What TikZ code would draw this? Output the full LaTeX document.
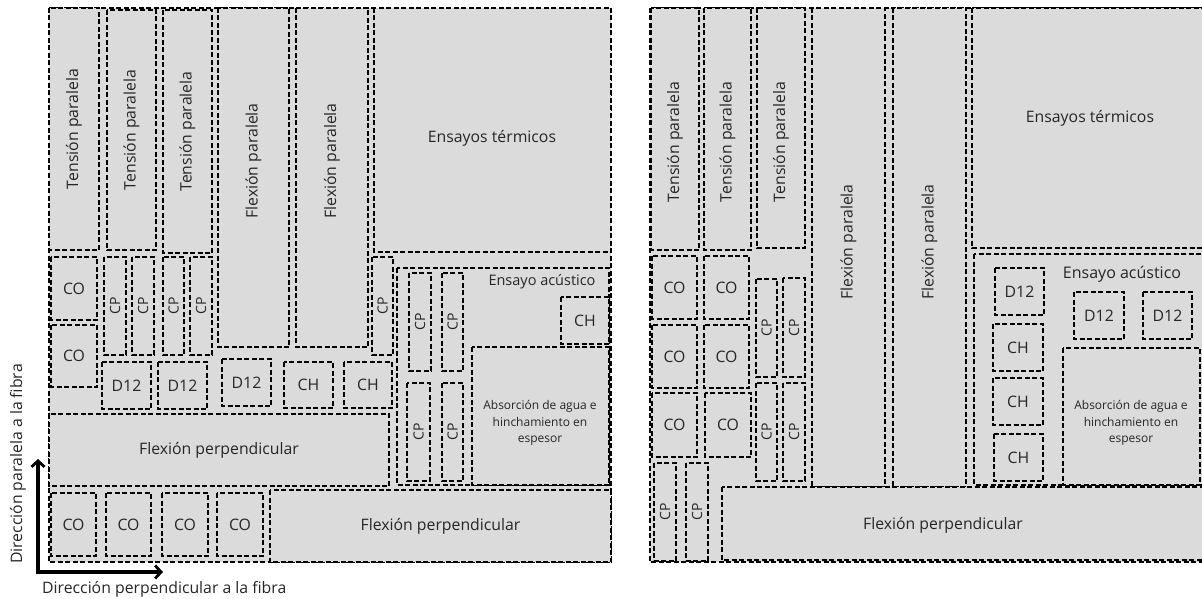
\documentclass[tikz,border=0pt]{standalone}
\usepackage{fontspec}
\setmainfont{Open Sans}
\usetikzlibrary{arrows.meta}
\definecolor{boardgray}{HTML}{DBDBDB}
\definecolor{txtgray}{HTML}{262626}
\tikzset{
  cut/.style={draw=black, fill=boardgray, line width=1.4pt, dash pattern=on 5pt off 2.5pt},
  lbl/.style={text=txtgray, font=\fontsize{15.8}{19}\selectfont, inner sep=0pt},
  smalllbl/.style={text=txtgray, font=\fontsize{12}{16.5}\selectfont, inner sep=0pt, align=center},
  cplbl/.style={text=txtgray, font=\fontsize{14}{16}\selectfont, inner sep=0pt, rotate=90},
  axis/.style={line width=3.2pt, -{Straight Barb[length=6pt,width=13pt,line width=2.8pt]}},
}
% #1 name, #2 x1, #3 y1, #4 x2, #5 y2, #6 label
\newcommand\plbox[6]{\draw[cut] (#2,-#3) rectangle (#4,-#5);
  \node[lbl] (#1) at ({(#2+#4)/2},{-(#3+#5)/2}) {#6};}
\newcommand\plrot[6]{\draw[cut] (#2,-#3) rectangle (#4,-#5);
  \node[lbl,rotate=90] (#1) at ({(#2+#4)/2},{-(#3+#5)/2}) {#6};}
\newcommand\plcp[5]{\draw[cut] (#2,-#3) rectangle (#4,-#5);
  \node[cplbl] (#1) at ({(#2+#4)/2},{-(#3+#5)/2}) {CP};}
\begin{document}
\begin{tikzpicture}[x=1pt,y=1pt]
\useasboundingbox (0,0) rectangle (1202,-599);
\clip (0,0) rectangle (1202,-599);
% ================= LEFT PANEL =================
\draw[cut] (49,-8) rectangle (611,-562);
\plrot{lt1}{49}{8}{99}{250}{Tensión paralela}
\plrot{lt2}{107}{10}{156}{250}{Tensión paralela}
\plrot{lt3}{163}{10}{212}{253}{Tensión paralela}
\draw[cut] (218,-8) rectangle (289,-347);
\node[lbl,rotate=90] (lf1) at (253.5,-161) {Flexión paralela};
\draw[cut] (296,-8) rectangle (368,-347);
\node[lbl,rotate=90] (lf2) at (332,-161) {Flexión paralela};
\draw[cut] (374,-8) rectangle (611,-252);
\node[lbl] (let) at (492,-138) {Ensayos térmicos};
\plbox{lco1}{51}{257}{97}{320}{CO}
\plbox{lco2}{51}{325}{97}{387}{CO}
\plcp{lcp1}{104}{257}{126}{355}
\plcp{lcp2}{132}{257}{154}{355}
\plcp{lcp3}{163}{257}{184}{355}
\plcp{lcp4}{190}{257}{212}{355}
\plcp{lcp5}{372}{257}{393}{355}
\plbox{ld1}{102}{362}{151}{409}{D12}
\plbox{ld2}{158}{362}{207}{409}{D12}
\plbox{ld3}{222}{359}{271}{406}{D12}
\plbox{lch1}{284}{362}{333}{408}{CH}
\plbox{lch2}{344}{362}{392}{408}{CH}
\plbox{lfp1}{49}{414}{389}{486}{Flexión perpendicular}
% acoustic region
\draw[cut] (397,-268) rectangle (609,-485);
\node[lbl,font=\fontsize{14.5}{17}\selectfont] (lea) at (542,-282) {Ensayo acústico};
\plcp{lcp6}{409}{273}{431}{371}
\plcp{lcp7}{442}{273}{463}{371}
\plcp{lcp8}{407}{383}{430}{481}
\plcp{lcp9}{442}{383}{463}{481}
\plbox{lch3}{561}{297}{609}{344}{CH}
\draw[cut] (472,-347) rectangle (609,-485);
\node[smalllbl] (labs) at (540,-423) {Absorción de agua e\\hinchamiento en\\espesor};
% bottom row
\plbox{lco3}{51}{493}{96}{556}{CO}
\plbox{lco4}{106}{493}{151}{556}{CO}
\plbox{lco5}{162}{493}{208}{556}{CO}
\plbox{lco6}{217}{493}{263}{556}{CO}
\plbox{lfp2}{270}{490}{611}{562}{Flexión perpendicular}
% axes
\coordinate (origin) at (38,-572);
\coordinate (uptip) at (38,-459);
\coordinate (righttip) at (163,-572);
\draw[axis] ([yshift=-1.6pt]origin) -- (uptip);
\draw[axis] ([xshift=-1.6pt]origin) -- (righttip);
\node[lbl,rotate=90] (vlabel) at (18,-464) {Dirección paralela a la fibra};
\node[lbl,anchor=west] (hlabel) at (42,-589) {Dirección perpendicular a la fibra};
% ================= RIGHT PANEL =================
\draw[cut] (650,-8) rectangle (1209,-562);
\draw[cut] (651,-8) rectangle (699,-250);
\node[lbl,rotate=90] (rt1) at (675,-142) {Tensión paralela};
\draw[cut] (704,-8) rectangle (751,-250);
\node[lbl,rotate=90] (rt2) at (727.5,-142) {Tensión paralela};
\draw[cut] (757,-8) rectangle (805,-248);
\node[lbl,rotate=90] (rt3) at (781,-142) {Tensión paralela};
\draw[cut] (812,-8) rectangle (885,-487);
\node[lbl,rotate=90] (rf1) at (848.5,-242) {Flexión paralela};
\draw[cut] (893,-8) rectangle (966,-487);
\node[lbl,rotate=90] (rf2) at (929.5,-242) {Flexión paralela};
\draw[cut] (972,-8) rectangle (1209,-248);
\node[lbl] (ret) at (1090,-118) {Ensayos térmicos};
\plbox{rco1}{652}{256}{697}{319}{CO}
\plbox{rco2}{704}{256}{749}{319}{CO}
\plbox{rco3}{652}{325}{697}{388}{CO}
\plbox{rco4}{704}{325}{749}{388}{CO}
\plbox{rco5}{652}{393}{697}{457}{CO}
\plbox{rco6}{705}{393}{751}{457}{CO}
\plcp{rcp1}{756}{279}{777}{377}
\plcp{rcp2}{783}{278}{805}{377}
\plcp{rcp3}{756}{383}{777}{481}
\plcp{rcp4}{783}{383}{805}{481}
\plcp{rcp5}{654}{463}{676}{561}
\plcp{rcp6}{686}{463}{708}{561}
\draw[cut] (722,-487) rectangle (1209,-560);
\node[lbl] (rfp) at (943,-525) {Flexión perpendicular};
% acoustic region
\draw[cut] (974,-254) rectangle (1209,-485);
\node[lbl,font=\fontsize{16}{19}\selectfont] (rea) at (1122,-274) {Ensayo acústico};
\plbox{rd1}{995}{268}{1044}{315}{D12}
\plbox{rd2}{1074}{292}{1124}{339}{D12}
\plbox{rd3}{1143}{292}{1192}{339}{D12}
\plbox{rch1}{993}{324}{1043}{371}{CH}
\plbox{rch2}{993}{378}{1043}{425}{CH}
\plbox{rch3}{994}{434}{1043}{481}{CH}
\draw[cut] (1063,-348) rectangle (1200,-485);
\node[smalllbl] (rabs) at (1131,-423) {Absorción de agua e\\hinchamiento en\\espesor};
\end{tikzpicture}
\end{document}
